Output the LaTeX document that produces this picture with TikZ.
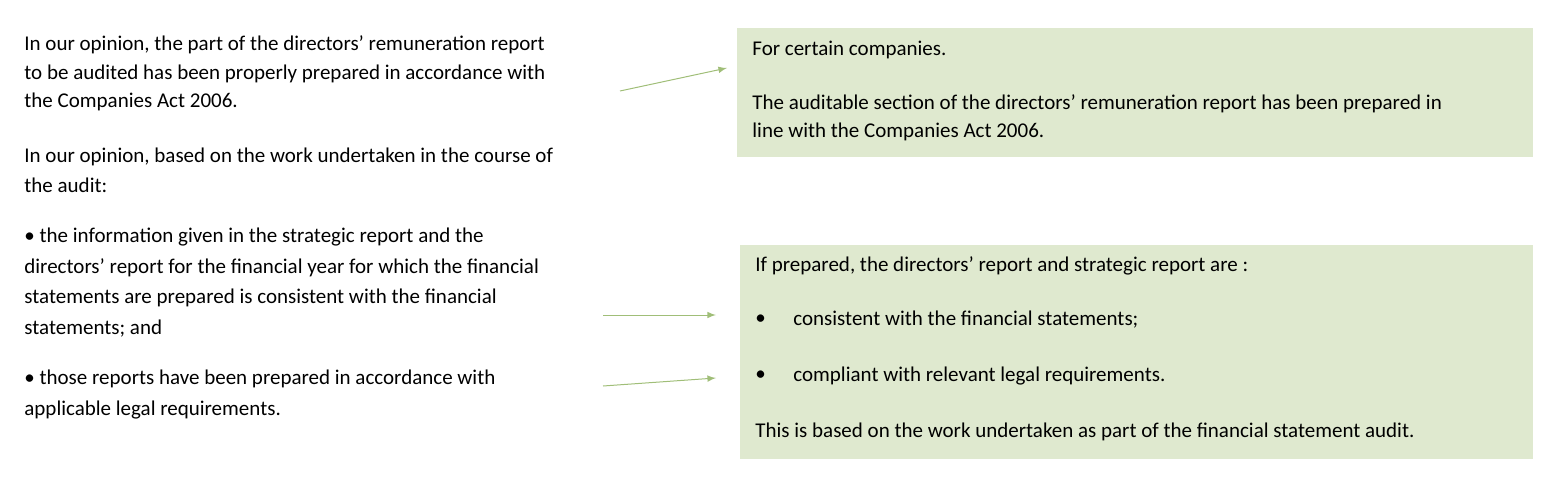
\documentclass[tikz,border=0pt]{standalone}
\usepackage{fontspec}
\setmainfont{Carlito}
\begin{document}
\begin{tikzpicture}[x=0.5pt,y=-0.5pt,
  txt/.style={anchor=west,inner sep=0pt,font=\fontsize{10.5}{12}\selectfont},
  box/.style={fill=boxgreen,draw=none},
  arr/.style={draw=arrgreen,-latex,line width=0.5pt}]
\definecolor{boxgreen}{RGB}{223,233,207}
\definecolor{arrgreen}{RGB}{160,190,120}
\useasboundingbox (0,0) rectangle (1555,487);
\fill[boxgreen] (737,28) rectangle (1533,157);
\fill[boxgreen] (740,245) rectangle (1533,459);
\node[txt] (l1) at (24,45) {In our opinion, the part of the directors’ remuneration report};
\node[txt] (l2) at (24,74) {to be audited has been properly prepared in accordance with};
\node[txt] (l3) at (24,102) {the Companies Act 2006.};
\node[txt] (l4) at (24,157) {In our opinion, based on the work undertaken in the course of};
\node[txt] (l5) at (24,185) {the audit:};
\node[txt] (l6) at (24,237) {• the information given in the strategic report and the};
\node[txt] (l7) at (24,268) {directors’ report for the financial year for which the financial};
\node[txt] (l8) at (24,298) {statements are prepared is consistent with the financial};
\node[txt] (l9) at (24,329) {statements; and};
\node[txt] (l10) at (24,379) {• those reports have been prepared in accordance with};
\node[txt] (l11) at (24,410) {applicable legal requirements.};
\node[txt] (r1) at (752,50) {For certain companies.};
\node[txt] (r2) at (752,104) {The auditable section of the directors’ remuneration report has been prepared in};
\node[txt] (r3) at (752,132) {line with the Companies Act 2006.};
\node[txt] (s1) at (755,266) {If prepared, the directors’ report and strategic report are :};
\node[txt] (b1) at (755,320) {•};
\node[txt] (s2) at (793,320) {consistent with the financial statements;};
\node[txt] (b2) at (755,376) {•};
\node[txt] (s3) at (793,376) {compliant with relevant legal requirements.};
\node[txt] (s4) at (755,432) {This is based on the work undertaken as part of the financial statement audit.};
\coordinate (a1s) at (620,91); \coordinate (a1e) at (727,68);
\coordinate (a2s) at (603,315); \coordinate (a2e) at (716,315);
\coordinate (a3s) at (603,386); \coordinate (a3e) at (716,378);
\draw[arr] (a1s) -- (a1e);
\draw[arr] (a2s) -- (a2e);
\draw[arr] (a3s) -- (a3e);
\end{tikzpicture}
\end{document}
